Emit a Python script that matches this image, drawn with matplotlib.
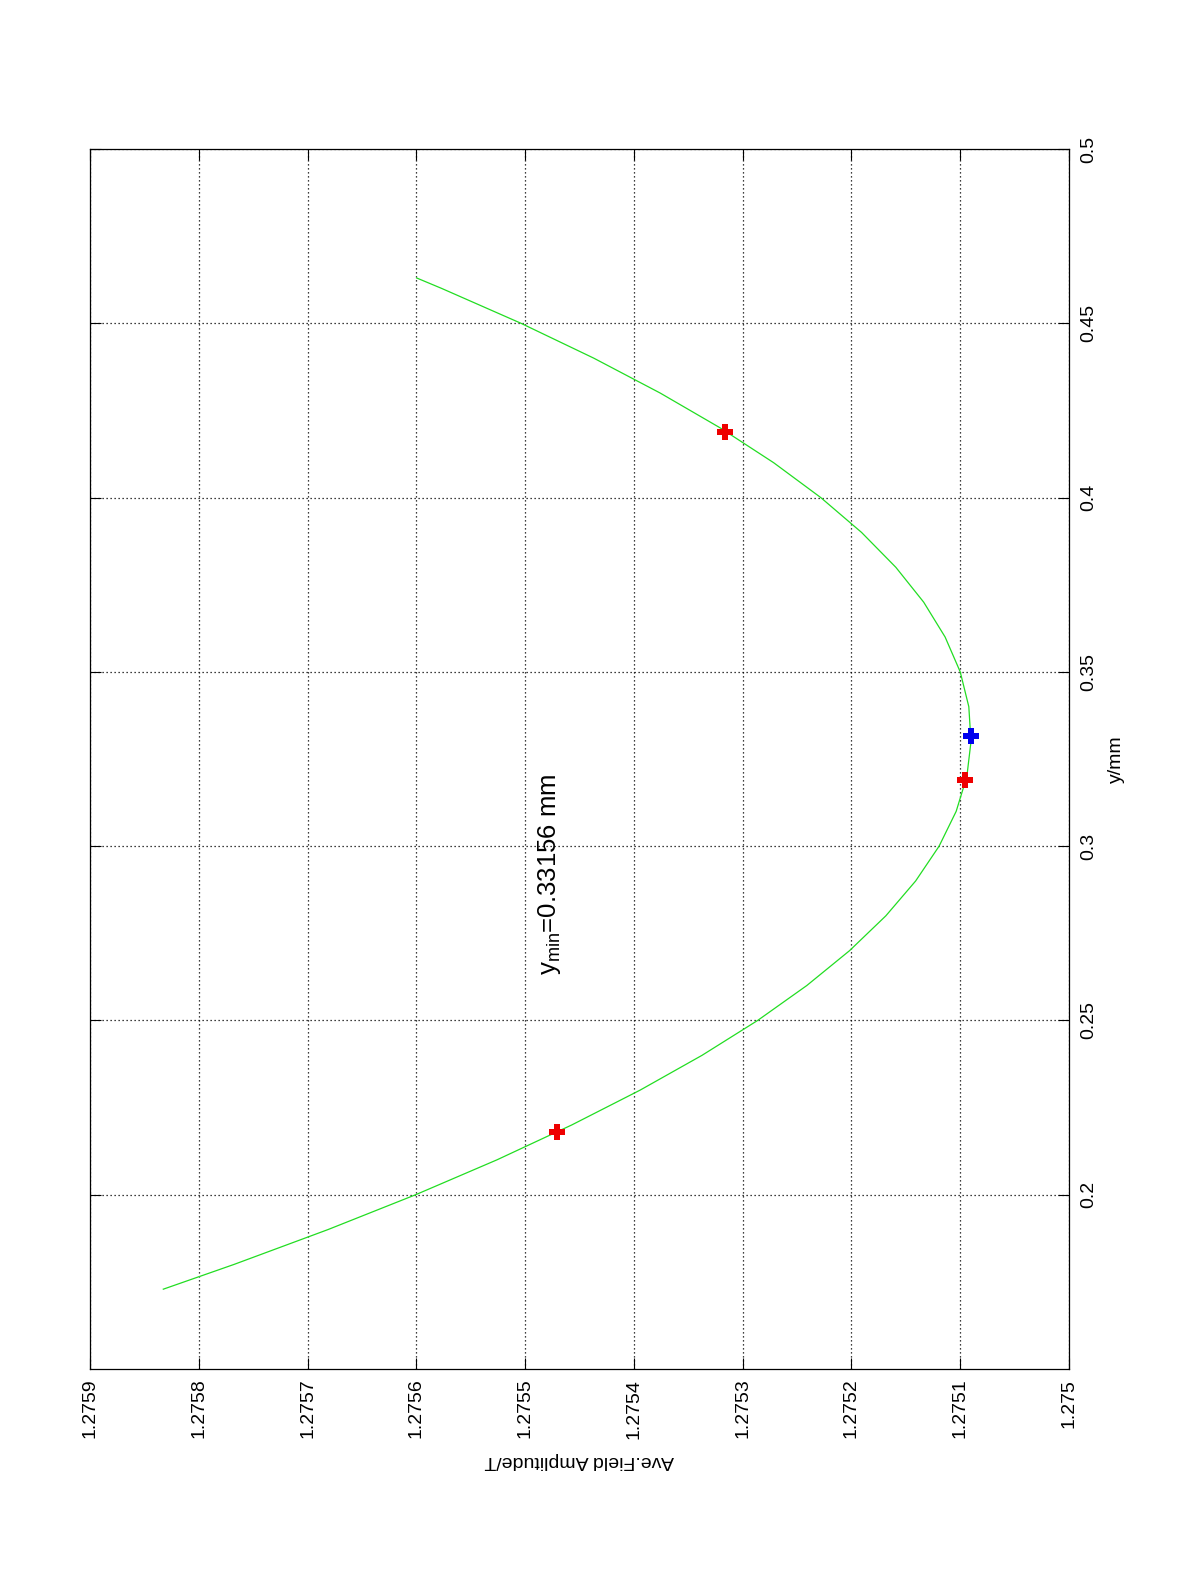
import matplotlib
matplotlib.use("Agg")
import matplotlib.pyplot as plt

plt.rcParams['font.family'] = ['Liberation Sans', 'DejaVu Sans']
plt.rcParams['mathtext.fontset'] = 'custom'
plt.rcParams['mathtext.rm'] = 'Liberation Sans'
plt.rcParams['mathtext.it'] = 'Liberation Sans'

# Fitted curve: position y (mm) vs average field amplitude (T)
curve_y = [0.1729, 0.18, 0.19, 0.20, 0.21, 0.22, 0.23, 0.24, 0.25, 0.26, 0.27,
           0.28, 0.29, 0.30, 0.31, 0.32, 0.33, 0.34, 0.35, 0.36, 0.37, 0.38,
           0.39, 0.40, 0.41, 0.42, 0.43, 0.44, 0.45, 0.46, 0.463]
curve_field = [1.2758326, 1.2757676, 1.2756812, 1.2756006, 1.2755259, 1.2754572,
               1.2753943, 1.2753373, 1.2752862, 1.2752411, 1.2752018, 1.2751684,
               1.2751410, 1.2751194, 1.2751037, 1.2750939, 1.2750901, 1.2750921,
               1.2751000, 1.2751139, 1.2751336, 1.2751592, 1.2751907, 1.2752282,
               1.2752715, 1.2753207, 1.2753759, 1.2754369, 1.2755038, 1.2755767,
               1.2755997]

# Measured points
meas_y = [0.218, 0.319, 0.4188]
meas_field = [1.2754705, 1.2750959, 1.2753163]

# Minimum
min_y = [0.33156]
min_field = [1.2750904]

field_ticks = [1.2759, 1.2758, 1.2757, 1.2756, 1.2755, 1.2754, 1.2753, 1.2752, 1.2751, 1.275]
field_labels = ['1.2759', '1.2758', '1.2757', '1.2756', '1.2755', '1.2754', '1.2753',
                '1.2752', '1.2751', '1.275']
y_ticks = [0.2, 0.25, 0.3, 0.35, 0.4, 0.45, 0.5]
y_labels = ['0.2', '0.25', '0.3', '0.35', '0.4', '0.45', '0.5']

fig = plt.figure(figsize=(12, 15.75), dpi=100)
W, H = 1200, 1575
ax = fig.add_axes([90 / W, 1 - 1369 / H, (1069 - 90) / W, (1369 - 149) / H])

ax.plot(curve_field, curve_y, color='#22dd22', lw=0.9, zorder=3)
ax.plot(meas_field, meas_y, linestyle='none', marker='P', ms=12, mew=0,
        color='#ee0000', zorder=4)
ax.plot(min_field, min_y, linestyle='none', marker='P', ms=12, mew=0,
        color='#0000ee', zorder=4)

ax.set_xlim(1.2759, 1.275)
ax.set_ylim(0.15, 0.5)

ax.set_xticks(field_ticks)
ax.set_xticklabels(field_labels, rotation=90, fontsize=14)
ax.set_yticks(y_ticks)
ax.set_yticklabels(y_labels, rotation=90, va='center', fontsize=14)

ax.yaxis.tick_right()
ax.yaxis.set_label_position('right')
ax.tick_params(axis='both', which='both', direction='in', length=8, width=0.8,
               top=True, bottom=True, left=True, right=True,
               labelleft=False, labelright=True, labelbottom=True, labeltop=False)
ax.tick_params(axis='x', pad=7)
ax.tick_params(axis='y', pad=8)

ax.grid(True, color='black', linestyle=(0, (1, 2.2)), linewidth=0.9)
for s in ax.spines.values():
    s.set_linewidth(0.9)

ax.set_ylabel('y/mm', rotation=90, fontsize=14, labelpad=8)
ax.set_xlabel('Ave.Field Amplitude/T', rotation=180, fontsize=14, labelpad=10)

ax.text(1.2754779, 0.263, r'y$_\mathregular{min}$=0.33156 mm', rotation=90,
        fontsize=18.5, ha='center', va='bottom', zorder=5)

fig.savefig('out.png', dpi=100)
